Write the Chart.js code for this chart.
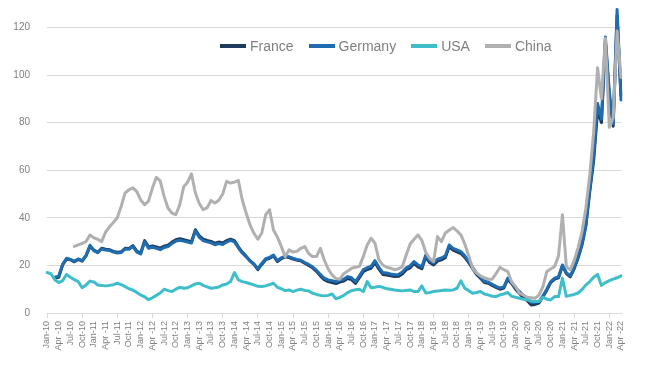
<!DOCTYPE html>
<html lang="en">
<head>
<meta charset="UTF-8">
<title>Gas price index</title>
<style>
  body { margin: 0; background: #fff; }
  #wrap { position: relative; width: 650px; height: 367px; }
  #legend { position: absolute; left: 220px; top: 38px; display: flex; gap: 15px;
            font-family: "Liberation Sans", Arial, sans-serif; font-size: 14px; color: #7f7f7f; }
  #legend .item { display: flex; align-items: center; }
  #legend .swatch { width: 26px; height: 4px; margin-right: 4px; }
</style>
</head>
<body>
<div id="wrap">
  <canvas id="chart" width="650" height="367"></canvas>
  <div id="legend"></div>
</div>
<script src="https://cdn.jsdelivr.net/npm/chart.js"></script>
<script>
// monthly, Jan-10 .. Apr-22
const monthTags = ['Jan-', 'Feb-', 'Mar-', 'Apr -', 'May-', 'Jun-', 'Jul-', 'Aug-', 'Sep-', 'Oct-', 'Nov-', 'Dec-'];
const firstYear = 10, lastYear = 22, lastMonth = 3;
const yTicks = [0, 20, 40, 60, 80, 100, 120];

const france = [
  null, null, 14.6, 15.0, 20.2, 22.6, 22.4, 21.5, 22.5, 21.8, 24.0, 28.0,
  26.4, 25.5, 27.2, 26.8, 26.6, 25.9, 25.5, 25.7, 27.2, 27.1, 28.3, 26.0,
  25.2, 30.4, 27.8, 28.2, 27.8, 27.2, 28.1, 28.5, 29.8, 30.8, 31.2, 30.8,
  30.4, 30.0, 35.0, 32.4, 31.0, 30.5, 30.1, 29.3, 29.8, 29.4, 30.4, 31.0,
  30.4, 27.8, 25.6, 23.9, 22.0, 20.4, 18.2, 20.4, 22.4, 23.0, 24.0, 21.6,
  22.8, 23.6, 23.3, 22.7, 22.2, 21.9, 20.9, 20.0, 19.0, 17.5, 15.6, 14.0,
  13.2, 12.8, 12.4, 13.0, 13.4, 14.5, 14.0, 12.4, 14.8, 17.4, 18.3, 18.8,
  21.2, 18.4, 16.2, 16.0, 15.6, 15.3, 15.4, 16.4, 18.2, 19.0, 20.8, 19.4,
  18.6, 23.6, 21.2, 20.2, 21.8, 22.3, 23.2, 27.8, 26.4, 25.7, 25.0, 23.4,
  21.2, 18.6, 16.2, 14.6, 12.8, 12.5, 11.6, 10.8, 10.0, 10.5, 14.2, 12.4,
  10.0, 8.2, 6.4, 5.2, 3.4, 3.6, 4.2, 6.8, 9.6, 12.8, 14.2, 14.8,
  19.8, 16.6, 15.2, 18.6, 23.0, 28.5, 36.5, 51.0, 64.0, 85.0, 80.0, 114.0,
  91.0, 78.5, 125.0, 91.5
];
const germany = [
  null, null, 15.0, 15.5, 20.5, 23.0, 22.5, 21.8, 22.7, 22.0, 24.2, 28.5,
  26.2, 25.3, 26.9, 26.5, 26.3, 25.6, 25.2, 25.4, 26.9, 26.8, 27.9, 25.6,
  24.8, 30.0, 27.2, 27.6, 27.2, 26.6, 27.5, 27.9, 29.2, 30.2, 30.6, 30.2,
  29.8, 29.4, 34.5, 31.8, 30.4, 29.9, 29.5, 28.7, 29.2, 28.8, 29.8, 30.5,
  29.9, 27.4, 25.2, 23.6, 21.8, 20.6, 18.6, 20.8, 22.8, 23.4, 24.3, 22.0,
  23.2, 23.9, 23.6, 23.0, 22.5, 22.2, 21.2, 20.4, 19.4, 18.0, 16.2, 14.6,
  13.9, 13.6, 13.2, 13.8, 14.2, 15.3, 14.8, 13.2, 15.6, 18.2, 19.0, 19.6,
  22.0, 19.2, 17.0, 16.8, 16.4, 16.1, 16.2, 17.2, 19.0, 19.8, 21.6, 20.2,
  19.4, 24.4, 22.0, 21.0, 22.6, 23.1, 24.0, 28.6, 27.2, 26.5, 25.8, 24.0,
  21.8, 19.2, 16.8, 15.2, 13.3, 13.0, 12.1, 11.2, 10.5, 11.0, 14.7, 13.0,
  10.6, 9.0, 7.4, 6.2, 4.4, 4.5, 4.8, 7.2, 10.0, 13.2, 14.6, 15.2,
  20.2, 17.0, 15.6, 19.0, 23.5, 29.0, 37.0, 52.0, 66.0, 88.0, 81.5, 116.0,
  93.0, 79.5, 127.5, 89.5
];
const usa = [
  17.0, 16.5, 14.0, 12.8, 13.6, 16.2, 15.0, 14.0, 13.2, 10.6, 11.8, 13.4,
  13.0, 11.8, 11.6, 11.4, 11.6, 11.9, 12.5, 12.0, 11.1, 10.2, 9.6, 8.6,
  7.6, 6.8, 5.6, 6.4, 7.4, 8.4, 10.0, 9.4, 9.0, 10.0, 10.8, 10.4,
  10.6, 11.4, 12.2, 12.5, 11.6, 11.0, 10.4, 10.6, 10.9, 11.8, 12.2, 13.2,
  17.0, 13.9, 13.2, 12.8, 12.3, 11.8, 11.2, 11.1, 11.4, 11.9, 12.5, 10.8,
  10.2, 9.4, 9.7, 9.0, 9.6, 10.0, 9.5, 9.3, 8.3, 7.8, 7.4, 7.2,
  7.4, 8.0, 6.0, 6.6, 7.4, 8.6, 9.4, 9.8, 10.0, 9.0, 13.2, 10.6,
  10.8, 11.2, 10.8, 10.2, 10.0, 9.7, 9.5, 9.3, 9.5, 9.7, 9.0, 9.0,
  11.4, 8.4, 8.6, 9.0, 9.2, 9.5, 9.7, 9.6, 9.7, 10.4, 13.5, 10.4,
  9.4, 8.3, 8.6, 9.0, 8.0, 7.6, 7.0, 6.9, 7.6, 8.0, 8.6, 7.0,
  6.6, 6.2, 5.8, 5.5, 5.0, 4.8, 4.8, 6.6, 5.8, 5.5, 6.9, 6.9,
  14.6, 7.0, 7.4, 7.8, 8.4, 9.8, 11.8, 13.2, 15.0, 16.2, 11.6, 12.8,
  13.6, 14.2, 14.8, 15.6
];
const china = [
  null, null, null, null, null, null, null, 28.0, 28.6, 29.2, 30.0, 32.8,
  31.6, 31.0, 30.0, 34.0, 36.2, 38.0, 40.0, 44.8, 50.5, 51.8, 52.6, 51.0,
  47.5, 45.5, 47.0, 52.5, 57.0, 55.5, 49.0, 44.0, 42.0, 41.3, 45.5, 53.0,
  55.0, 58.5, 50.4, 46.0, 43.4, 44.2, 47.3, 46.2, 47.4, 50.0, 55.3, 54.6,
  55.0, 55.7, 47.6, 42.0, 37.0, 33.5, 31.0, 33.6, 41.3, 43.4, 34.9, 31.9,
  28.0, 23.7, 26.5, 25.6, 25.9, 27.2, 27.9, 25.0, 23.7, 23.7, 27.2, 22.3,
  18.5, 16.0, 14.5, 14.2, 16.5, 17.6, 18.8, 19.2, 19.6, 23.7, 28.6, 31.4,
  29.3, 22.3, 20.2, 19.2, 18.8, 18.2, 18.6, 19.5, 24.4, 29.0, 31.0, 32.8,
  30.5, 25.5, 23.0, 21.6, 32.1, 30.0, 33.6, 34.8, 35.9, 34.5, 32.8, 29.0,
  24.0, 18.8, 16.8, 15.6, 14.8, 14.2, 14.2, 16.5, 19.2, 18.2, 17.4, 13.0,
  11.1, 8.3, 7.6, 6.6, 6.4, 6.2, 7.5, 11.1, 17.4, 18.5, 19.5, 24.0,
  41.3, 19.5, 18.1, 22.0, 27.5, 34.0, 44.0, 58.0, 76.0, 103.0, 90.0, 115.5,
  78.0, 82.0, 118.5, 99.0
];

const labels = [];
for (let y = firstYear; y <= lastYear; y++) {
  for (let m = 0; m < 12; m++) {
    if (y === lastYear && m > lastMonth) break;
    labels.push(monthTags[m] + y);
  }
}

const FONT = '"Liberation Sans", Arial, sans-serif';
Chart.defaults.font.family = FONT;
Chart.defaults.color = '#7f7f7f';

function series(label, data, color, order) {
  return {
    label, data, order,
    borderColor: color, backgroundColor: color,
    borderWidth: 3, pointRadius: 0, tension: 0,
    borderJoinStyle: 'round', borderCapStyle: 'round'
  };
}

const chart = new Chart(document.getElementById('chart'), {
  type: 'line',
  data: {
    labels: labels,
    datasets: [
      series('France', france, '#1d3a5f', 3),
      series('Germany', germany, '#1f6cb0', 2),
      series('USA', usa, '#3dbec9', 1),
      series('China', china, '#b0b0b0', 0)
    ]
  },
  options: {
    responsive: false,
    animation: false,
    devicePixelRatio: 1,
    layout: { padding: { top: 0, right: 29, bottom: 0, left: 0 } },
    plugins: { legend: { display: false }, tooltip: { enabled: false } },
    scales: {
      x: {
        offset: false,
        afterFit: s => { s.height = 54; },
        grid: {
          drawOnChartArea: false, tickLength: 5,
          color: c => (c.index % 3 === 0 ? '#d9d9d9' : 'rgba(0,0,0,0)')
        },
        border: { color: '#d9d9d9' },
        ticks: {
          autoSkip: false, minRotation: 90, maxRotation: 90, padding: 3,
          font: { size: 9 },
          callback: (v, i) => (i % 3 === 0 ? labels[i] : null)
        }
      },
      y: {
        min: 0, max: 129,
        afterFit: s => { s.width = 47; },
        afterBuildTicks: s => { s.ticks = yTicks.map(v => ({ value: v })); },
        // invisible tick marks keep the labels clear of the plot
        grid: { color: '#d9d9d9', drawTicks: true, tickLength: 17, tickColor: 'rgba(0,0,0,0)' },
        border: { display: false },
        ticks: { padding: 0, font: { size: 10 } }
      }
    }
  }
});

// legend in the original series order
const legendBox = document.getElementById('legend');
chart.data.datasets.forEach(ds => {
  const item = document.createElement('div');
  item.className = 'item';
  const sw = document.createElement('span');
  sw.className = 'swatch';
  sw.style.background = ds.borderColor;
  const txt = document.createElement('span');
  txt.textContent = ds.label;
  item.appendChild(sw);
  item.appendChild(txt);
  legendBox.appendChild(item);
});
</script>
</body>
</html>
